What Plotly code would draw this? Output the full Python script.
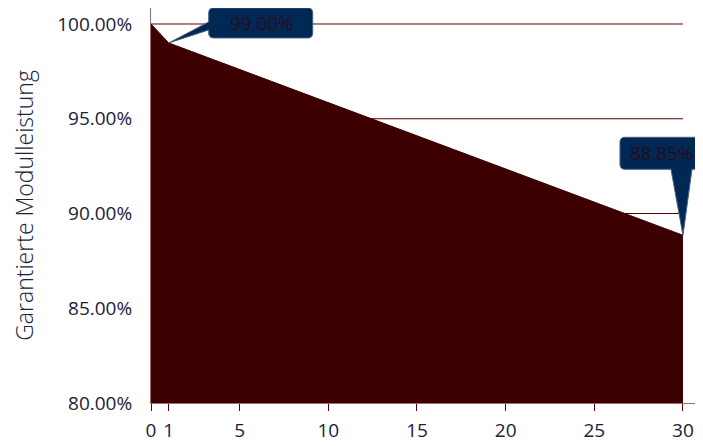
import plotly.graph_objects as go

years = [0, 1, 2, 3, 4, 5, 6, 7, 8, 9, 10, 11, 12, 13, 14, 15, 16, 17, 18, 19, 20,
         21, 22, 23, 24, 25, 26, 27, 28, 29, 30]
power = [100.00, 99.00, 98.65, 98.30, 97.95, 97.60, 97.25, 96.90, 96.55, 96.20, 95.85,
         95.50, 95.15, 94.80, 94.45, 94.10, 93.75, 93.40, 93.05, 92.70, 92.35,
         92.00, 91.65, 91.30, 90.95, 90.60, 90.25, 89.90, 89.55, 89.20, 88.85]
x_ticks = [0, 1, 5, 10, 15, 20, 25, 30]
y_ticks = [80, 85, 90, 95, 100]
callouts = [(1, 99.00, "99.00%"), (30, 88.85, "88.85%")]
y_title = "Garantierte Modulleistung"

FILL = "#3d0000"
NAVY = "#002855"
TXT = "#1a2238"
FONT = "Open Sans"

fig = go.Figure()
fig.add_trace(go.Scatter(
    x=years, y=power, mode="lines", fill="tozeroy",
    line=dict(color=FILL, width=1), fillcolor=FILL, hoverinfo="skip",
))

shapes = []
for yv in y_ticks[1:]:
    shapes.append(dict(type="line", xref="x", yref="y", x0=0, x1=30, y0=yv, y1=yv,
                       line=dict(color="#5a0000", width=1), layer="below"))

r = 5
# callout 1: box to the right of the point, wedge from its left edge
cx, cy, _ = callouts[0]
bx0, bx1, by0, by1 = 40, 144, 5, 35
p1 = (f"M 0 0 L {bx0} {by0+8} L {bx0} {by0+r} Q {bx0} {by0} {bx0+r} {by0} "
      f"L {bx1-r} {by0} Q {bx1} {by0} {bx1} {by0+r} L {bx1} {by1-r} Q {bx1} {by1} {bx1-r} {by1} "
      f"L {bx0+r} {by1} Q {bx0} {by1} {bx0} {by1-r} L {bx0} {by0+16} Z")
shapes.append(dict(type="path", xref="x", yref="y", xsizemode="pixel", ysizemode="pixel",
                   xanchor=cx, yanchor=cy, path=p1, fillcolor=NAVY,
                   line=dict(color="#4a6080", width=1), layer="above"))

# callout 2: box above the point, wedge from its bottom edge
cx2, cy2, _ = callouts[1]
bx0, bx1, by0, by1 = -63, 30, 66, 98
p2 = (f"M 0 0 L 9 {by0} L {bx1} {by0} L {bx1} {by1} "
      f"L {bx0+r} {by1} Q {bx0} {by1} {bx0} {by1-r} L {bx0} {by0+r} Q {bx0} {by0} {bx0+r} {by0} "
      f"L -12 {by0} Z")
shapes.append(dict(type="path", xref="x", yref="y", xsizemode="pixel", ysizemode="pixel",
                   xanchor=cx2, yanchor=cy2, path=p2, fillcolor=NAVY,
                   line=dict(color="#4a6080", width=1), layer="above"))

annotations = [
    dict(x=callouts[0][0], y=callouts[0][1], text=callouts[0][2], showarrow=False,
         xshift=93, yshift=20, font=dict(family=FONT, size=19, color="#3a0000", weight=300)),
    dict(x=callouts[1][0], y=callouts[1][1], text=callouts[1][2], showarrow=False,
         xshift=-21, yshift=82, font=dict(family=FONT, size=19, color="#3a0000", weight=300)),
]

fig.update_layout(
    width=703, height=446,
    margin=dict(l=143, r=0, t=0, b=51),
    paper_bgcolor="white", plot_bgcolor="white",
    showlegend=False,
    shapes=shapes, annotations=annotations,
    font=dict(family=FONT, color=TXT, size=19),
    xaxis=dict(range=[0, 31.58], tickvals=x_ticks, ticktext=[str(v) for v in x_ticks],
               showgrid=False, zeroline=False, showline=True, linecolor="#9a6e6e", linewidth=1,
               ticks="outside", ticklen=7, tickcolor="#5a0000", tickwidth=1,
               ticklabelstandoff=3,
               tickfont=dict(family=FONT, size=19, color=TXT)),
    yaxis=dict(range=[80, 100.844], tickvals=y_ticks,
               ticktext=[f"{v:.2f}%" for v in y_ticks],
               showgrid=False, zeroline=False, showline=True, linecolor="#9a6e6e", linewidth=1,
               ticks="", ticklabelstandoff=14,
               tickfont=dict(family=FONT, size=19, color=TXT),
               title=dict(text=y_title, standoff=22,
                          font=dict(family=FONT, size=23, color=TXT, weight=300))),
)

fig.write_html("out.html")
